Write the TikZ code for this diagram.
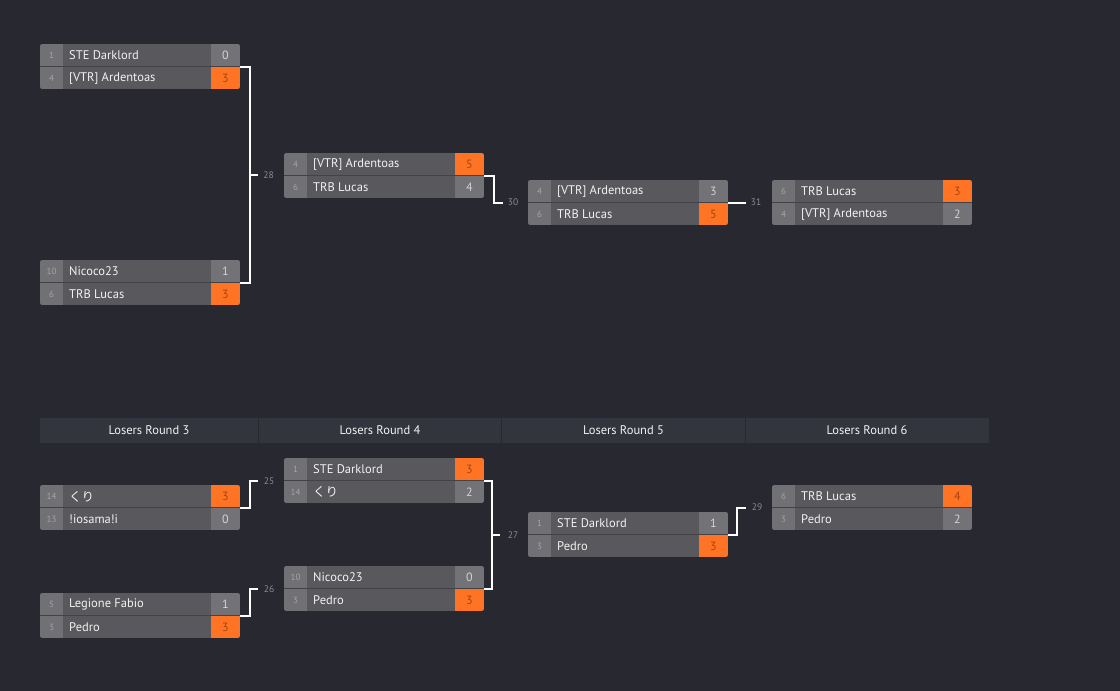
\documentclass[tikz,border=0pt]{standalone}
\usepackage{fontspec}
\setmainfont{PT Sans}
\newfontfamily\cjk{Noto Sans CJK JP}
\usetikzlibrary{calc}
\definecolor{bgcol}{RGB}{39,40,48}
\definecolor{headcol}{RGB}{50,52,62}
\definecolor{namecol}{RGB}{88,88,93}
\definecolor{seedcol}{RGB}{112,112,117}
\definecolor{scorecol}{RGB}{114,114,119}
\definecolor{wincol}{RGB}{255,116,36}
\definecolor{sepcol}{RGB}{66,66,71}
\definecolor{seedtxt}{RGB}{165,165,168}
\definecolor{scoretxt}{RGB}{212,212,214}
\definecolor{wintxt}{RGB}{165,68,15}
\definecolor{nametxt}{RGB}{242,242,242}
\definecolor{lbltxt}{RGB}{140,140,145}
\tikzset{
  matchnode/.style={minimum width=200pt,minimum height=45pt,inner sep=0pt,draw=none},
  seedlbl/.style={text=seedtxt,font=\fontsize{9}{10}\selectfont,inner sep=0pt},
  namelbl/.style={text=nametxt,font=\fontsize{12.5}{14}\selectfont,anchor=west,inner sep=0pt},
  scorelbl/.style={font=\fontsize{12}{14}\selectfont,inner sep=0pt},
  conn/.style={draw=white,line width=2pt},
  numlbl/.style={text=lbltxt,font=\fontsize{9.5}{11}\selectfont,inner sep=0pt},
  headlbl/.style={text=nametxt,font=\fontsize{12.5}{14}\selectfont,inner sep=0pt}
}
\newcommand\bmatch[9]{%
  \ifnum#6>#9\relax\def\cA{wincol}\def\cB{scorecol}\def\tA{wintxt}\def\tB{scoretxt}%
  \else\def\cA{scorecol}\def\cB{wincol}\def\tA{scoretxt}\def\tB{wintxt}\fi
  \node[matchnode] (#1) at (#2+100,#3+22.5) {};
  \begin{scope}
    \clip[rounded corners=2.5pt] (#2,#3) rectangle ++(200,45);
    \fill[namecol] (#2,#3) rectangle ++(200,45);
    \fill[seedcol] (#2,#3) rectangle ++(23,45);
    \fill[fill=\cA] (#2+171,#3) rectangle ++(29,22.5);
    \fill[fill=\cB] (#2+171,#3+22.5) rectangle ++(29,22.5);
    \draw[sepcol,line width=1pt] (#2,#3+22.5) -- ++(200,0);
  \end{scope}
  \node[seedlbl] (#1-s1) at (#2+11.5,#3+11.5) {#4};
  \node[seedlbl] (#1-s2) at (#2+11.5,#3+34) {#7};
  \node[namelbl] (#1-n1) at (#2+29,#3+11.5) {#5};
  \node[namelbl] (#1-n2) at (#2+29,#3+34) {#8};
  \node[scorelbl,text=\tA] (#1-p1) at (#2+185.5,#3+11.5) {#6};
  \node[scorelbl,text=\tB] (#1-p2) at (#2+185.5,#3+34) {#9};
}
\begin{document}
\begin{tikzpicture}[x=1pt,y=-1pt]
\fill[bgcol] (0,0) rectangle (1120,691);
\useasboundingbox (0,0) rectangle (1120,691);
% top bracket
\bmatch{m1}{40}{44}{1}{STE Darklord}{0}{4}{[VTR] Ardentoas}{3}
\bmatch{m2}{40}{260}{10}{Nicoco23}{1}{6}{TRB Lucas}{3}
\bmatch{m28}{284}{153}{4}{[VTR] Ardentoas}{5}{6}{TRB Lucas}{4}
\bmatch{m30}{528}{180}{4}{[VTR] Ardentoas}{3}{6}{TRB Lucas}{5}
\bmatch{m31}{772}{180}{6}{TRB Lucas}{3}{4}{[VTR] Ardentoas}{2}
% connectors top
\draw[conn] (m1.east) -- ++(10,0) |- (m2.east);
\coordinate (j28) at ($(m1.east)!0.5!(m2.east)+(10,0)$);
\draw[conn] (j28) -- ++(8,0);
\node[numlbl] (l28) at (268.5,175.5) {28};
\coordinate (e30) at ($(m30.west)+(-25,0)$);
\draw[conn] (m28.east) -- ++(10,0) |- (e30);
\node[numlbl] (l30) at (513,202.5) {30};
\coordinate (e31) at ($(m31.west)+(-26,0)$);
\draw[conn] (m30.east) -- (e31);
\node[numlbl] (l31) at (756,202.5) {31};
% header
\fill[headcol] (40,418) rectangle (989,443);
\draw[bgcol,line width=1pt] (258,418) -- (258,443) (501.5,418) -- (501.5,443) (745,418) -- (745,443);
\node[headlbl] (h3) at (149,430.5) {Losers Round 3};
\node[headlbl] (h4) at (380,430.5) {Losers Round 4};
\node[headlbl] (h5) at (623.5,430.5) {Losers Round 5};
\node[headlbl] (h6) at (867,430.5) {Losers Round 6};
% bottom bracket
\bmatch{la}{40}{485}{14}{{\cjk くり}}{3}{13}{!iosama!i}{0}
\bmatch{lb}{40}{593}{5}{Legione Fabio}{1}{3}{Pedro}{3}
\bmatch{l25}{284}{458}{1}{STE Darklord}{3}{14}{{\cjk くり}}{2}
\bmatch{l26}{284}{566}{10}{Nicoco23}{0}{3}{Pedro}{3}
\bmatch{l27}{528}{512}{1}{STE Darklord}{1}{3}{Pedro}{3}
\bmatch{l29}{772}{485}{6}{TRB Lucas}{4}{3}{Pedro}{2}
\coordinate (e25) at ($(l25.west)+(-26,0)$);
\draw[conn] (la.east) -- ++(10,0) |- (e25);
\node[numlbl] (n25) at (269,481) {25};
\coordinate (e26) at ($(l26.west)+(-26,0)$);
\draw[conn] (lb.east) -- ++(10,0) |- (e26);
\node[numlbl] (n26) at (269,589) {26};
\draw[conn] (l25.east) -- ++(8,0) |- (l26.east);
\coordinate (j27) at ($(l25.east)!0.5!(l26.east)+(8,0)$);
\draw[conn] (j27) -- ++(8,0);
\node[numlbl] (n27) at (513,535) {27};
\coordinate (e29) at ($(l29.west)+(-26,0)$);
\draw[conn] (l27.east) -- ++(9,0) |- (e29);
\node[numlbl] (n29) at (757,507.5) {29};
\end{tikzpicture}
\end{document}
